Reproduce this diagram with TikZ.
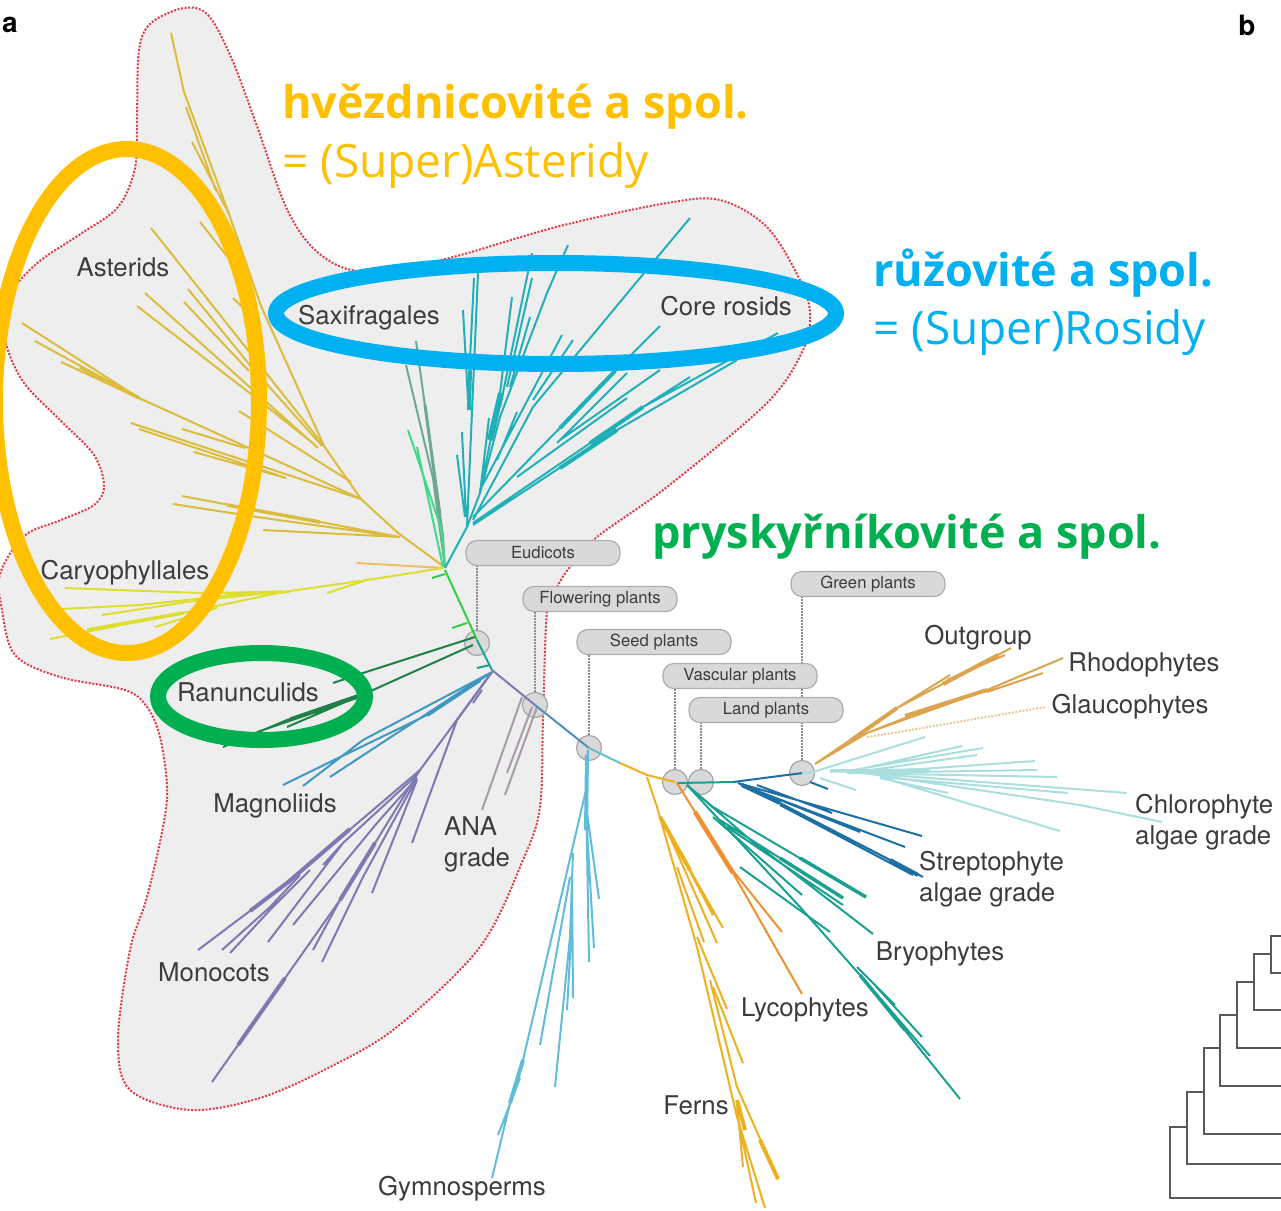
\documentclass[tikz,border=0pt]{standalone}
\usepackage{fontspec}
\setmainfont{TeX Gyre Heros}
\newfontfamily\czfont{Open Sans}
\usetikzlibrary{positioning}
\definecolor{blobred}{HTML}{E03A48}
\definecolor{blobfill}{HTML}{EEEEEE}
\definecolor{labelgray}{HTML}{3C3C3C}
\definecolor{cAster}{HTML}{DCBC3C}
\definecolor{cCaryo}{HTML}{DEDE30}
\definecolor{cRosid}{HTML}{22B0B8}
\definecolor{cSaxi}{HTML}{6FA890}
\definecolor{cRanun}{HTML}{1F8048}
\definecolor{cMagn}{HTML}{3F98C0}
\definecolor{cMono}{HTML}{7C7AB0}
\definecolor{cAna}{HTML}{A89CA8}
\definecolor{cGymn}{HTML}{60BCD8}
\definecolor{cFern}{HTML}{EDB020}
\definecolor{cLyco}{HTML}{F09030}
\definecolor{cBryo}{HTML}{1AA090}
\definecolor{cStrep}{HTML}{1C70A4}
\definecolor{cChlor}{HTML}{ABDEDE}
\definecolor{cOut}{HTML}{DCA44E}
\definecolor{ovalgold}{HTML}{FFC000}
\definecolor{ovalblue}{HTML}{00B0F0}
\definecolor{ovalgreen}{HTML}{00B050}
\tikzset{
  branch/.style={line width=2pt,line join=round},
  cladelabel/.style={text=labelgray,font=\fontsize{25.8}{31}\selectfont,inner sep=0pt,align=left},
  pill/.style={draw=black!32,fill=black!15,line width=1.2pt,rounded corners=11pt,minimum width=154pt,minimum height=25pt,inner sep=0pt,text=labelgray,font=\fontsize{16.7}{18}\selectfont},
  marker/.style={circle,draw=black!35,fill=black!15,line width=1.2pt,minimum size=25pt,inner sep=0pt},
  tie/.style={black!45,line width=1.5pt,dash pattern=on 1.5pt off 1.5pt},
  oval/.style={line width=16pt},
  cztitle/.style={inner sep=0pt,anchor=base west,font=\czfont\bfseries\fontsize{45}{46}\selectfont},
  czsub/.style={inner sep=0pt,anchor=base west,font=\czfont\fontsize{46}{46}\selectfont},
  panel/.style={inner sep=0pt,font=\bfseries\fontsize{28}{28}\selectfont},
  cladogram/.style={black!65,line width=1.6pt}
}
\begin{document}
\begin{tikzpicture}[x=1pt,y=-1pt]
\useasboundingbox (0,0) rectangle (1281,1210);
% grey area with red dots
\draw[blobred,fill=blobfill,line width=2pt,dash pattern=on 2pt off 1.6pt] plot[smooth cycle,tension=.55] coordinates {
 (184,8) (208,15) (231,57) (257,126) (286,207) (314,249) (351,270) (400,268) (457,256) (560,226) (667,203) (720,200)
 (767,227) (800,280) (810,313) (803,350) (767,403) (667,487) (597,537) (570,567) (557,587) (547,612) (543,720)
 (540,807) (523,860) (480,947) (397,1027) (330,1067) (260,1098) (190,1110) (130,1090) (118,1040) (130,950) (147,897) (163,827)
 (167,787) (160,737) (147,707) (125,690) (60,677) (15,655) (2,610) (0,574) (24,536) (61,520) (94,505) (104,486)
 (94,455) (61,421) (24,383) (6,344) (4,306) (16,285) (41,260) (82,233) (118,207) (135,168) (137,115) (139,50) (151,23)
};
% markers under the tree
\node[marker] (mEudicots) at (477,643) {};
\node[marker] (mFlowering) at (535,705) {};
\node[marker] (mSeed) at (589,748) {};
\node[marker] (mVascular) at (675,782) {};
\node[marker] (mLand) at (701,782) {};
\node[marker] (mGreen) at (802,773) {};
% asterids
\draw[branch,cAster] (443,566) -- (398,533) -- (361,499) -- (324,446) -- (261,306) -- (229,214) -- (184,92) -- (171,33);
\draw[branch,cAster] (192,142) -- (229,214) (186,107) -- (216,191) (190,188) -- (233,245) (200,222) -- (245,279);
\draw[branch,cAster] (151,228) -- (324,446) (145,293) -- (253,390) -- (318,448) (137,306) -- (251,394) -- (314,444);
\draw[branch,cAster] (188,289) -- (249,364) -- (322,446) (184,302) -- (249,371) (233,298) -- (261,325) (239,411) -- (351,482);
\draw[branch,cAster] (22,323) -- (139,398) -- (361,499) (35,341) -- (139,398) (61,362) -- (143,400);
\draw[branch,cAster] (131,423) -- (361,499) (139,429) -- (286,478) (182,429) -- (245,448) (194,452) -- (286,478);
\draw[branch,cAster] (182,496) -- (400,537) (173,504) -- (257,517) -- (400,537) (263,530) -- (400,537);
\draw[branch,cAster,line width=3.5pt] (227,505) -- (320,522) (80,367) -- (139,398);
\draw[branch,cAster!55!orange!70!white] (357,563) -- (443,568);
% caryophyllales
\draw[branch,cCaryo] (65,588) -- (200,593) -- (283,592) -- (367,580) -- (443,568) (60,609) -- (140,605) -- (233,595) -- (290,592);
\draw[branch,cCaryo] (102,615) -- (187,602) -- (267,593) (50,639) -- (183,613) -- (283,592) (155,627) -- (217,608) (327,593) -- (367,580);
\draw[branch,cCaryo,line width=3.5pt] (87,630) -- (183,613) (225,594) -- (283,592);
% saxifragales
\draw[branch,cSaxi] (416,341) -- (443,536) -- (445,568) (406,365) -- (433,478) -- (445,568);
\draw[branch,cSaxi,line width=3pt] (425,405) -- (440,515);
\draw[branch,cRosid!60!green!80!white] (408,430) -- (441,528) -- (445,568) (417,447) -- (443,567);
% rosids
\draw[branch,cRosid] (445,568) -- (467,527);
\draw[branch,cRosid] (467,527) -- (478,273) (474,278) -- (468,400) (463,310) -- (468,400) (462,432) -- (466,517) (457,455) -- (465,517);
\draw[branch,cRosid] (489,418) -- (480,493) (512,297) -- (500,393) -- (480,493) -- (467,527) (532,253) -- (500,407) (532,278) -- (507,387);
\draw[branch,cRosid] (568,245) -- (547,293) -- (500,417) -- (480,493) (530,317) -- (510,387) (562,335) -- (480,490) (573,340) -- (533,400) (517,412) -- (497,460);
\draw[branch,cRosid] (690,218) -- (630,290) -- (533,407) -- (473,520) (660,326) -- (633,353) -- (473,517) (627,373) -- (557,443) (660,370) -- (560,440) (627,398) -- (517,477);
\draw[branch,cRosid] (778,333) -- (643,407) -- (473,523) (737,360) -- (617,430) -- (473,525) (690,377) -- (643,407);
\draw[branch,cRosid,line width=4pt] (560,428) -- (615,371) (560,468) -- (617,430) (590,443) -- (643,407) (470,370) -- (469,410);
\draw[branch,cRosid,line width=6pt] (501,393) -- (490,440);
% stem
\draw[branch,green!55!cRanun!85!white] (445,570) -- (477,640) (432,578) -- (445,574) (452,628) -- (467,623);
\draw[branch,cBryo] (477,640) -- (492,670) (477,668) -- (490,665);
% ranunculids
\draw[branch,cRanun] (475,637) -- (363,673) -- (333,683) (473,645) -- (373,690) -- (287,720) -- (223,747) (257,732) -- (357,698) (287,727) -- (350,700);
\draw[branch,cRanun,line width=3pt] (290,719) -- (357,696);
% magnoliids
\draw[branch,cMagn] (283,785) -- (330,762) -- (427,715) -- (492,672) (303,786) -- (363,740) -- (492,672) (330,777) -- (397,733) -- (492,672);
\draw[branch,cMagn,line width=4pt] (427,715) -- (480,680);
% monocots
\draw[branch,cMono] (492,672) -- (420,770) -- (340,900) -- (212,1082);
\draw[branch,cMono] (198,950) -- (287,883) -- (420,770) (222,950) -- (270,907) -- (300,875) (230,953) -- (270,910) -- (310,870);
\draw[branch,cMono] (268,942) -- (343,843) -- (417,775) (293,925) -- (377,823) -- (417,778) (313,950) -- (340,900) (322,962) -- (363,877) -- (417,778) (372,893) -- (417,780) (323,865) -- (343,843);
\draw[branch,cMono] (412,843) -- (457,720) -- (492,672) (473,703) -- (482,690);
\draw[branch,cMono,line width=4pt] (238,1045) -- (285,978) (340,900) -- (375,843) (250,911) -- (287,883) -- (350,829);
% ANA grade
\draw[branch,cAna] (482,810) -- (522,697) (507,773) -- (532,707) (505,795) -- (537,707);
% backbone
\draw[branch,cMono] (492,670) -- (535,705);
\draw[branch,cMagn!70!cMono] (535,705) -- (589,748);
\draw[branch,cGymn!60!cBryo!80!white] (589,748) -- (620,763);
\draw[branch,cFern] (620,763) -- (647,775) -- (675,782);
\draw[branch,cBryo] (677,783) -- (733,782);
\draw[branch,cStrep] (733,782) -- (787,775) -- (803,773);
% gymnosperms
\draw[branch,cGymn] (588,750) -- (586,790) -- (523,1060) -- (510,1103) -- (492,1178) (498,1135) -- (520,1078) (540,1045) -- (570,877) (555,1087) -- (570,937) -- (573,853);
\draw[branch,cGymn] (567,1010) -- (572,920) (573,998) -- (572,880) (589,962) -- (586,790) (594,948) -- (587,830) (599,899) -- (587,813);
\draw[branch,cGymn,line width=4pt] (587,755) -- (586,830) (523,1060) -- (510,1103);
% ferns
\draw[branch,cFern] (647,777) -- (657,807) -- (697,947) -- (737,1117) -- (765,1208) (756,1203) -- (737,1115) (743,1167) -- (737,1103) (778,1179) -- (737,1087) -- (710,980);
\draw[branch,cFern] (743,1063) -- (713,987) (727,1009) -- (697,937) (723,928) -- (660,817) (717,943) -- (667,830) (704,942) -- (677,867) (713,915) -- (663,820);
\draw[branch,cFern,line width=4pt] (737,1100) -- (745,1130) (660,817) -- (690,870) (760,1140) -- (778,1179);
% lycophytes
\draw[branch,cLyco] (677,783) -- (733,873) -- (802,994) (782,932) -- (730,867);
\draw[branch,cLyco,line width=4.5pt] (695,812) -- (733,873);
% bryophytes
\draw[branch,cBryo] (687,785) -- (800,907) -- (867,983) -- (960,1099) (922,1037) -- (873,983) (930,1056) -- (867,983) (895,1005) -- (857,967);
\draw[branch,cBryo] (830,932) -- (740,867) (802,895) -- (713,817) (873,934) -- (747,837) -- (687,785) (866,897) -- (713,807) -- (687,785) (843,898) -- (720,820) (843,905) -- (727,827);
\draw[branch,cBryo,line width=3.5pt] (800,858) -- (866,897) (860,975) -- (905,1030) (780,858) -- (843,898);
% streptophyte algae
\draw[branch,cStrep] (922,836) -- (738,783) (905,847) -- (747,787) (923,877) -- (780,803) -- (738,783) (913,875) -- (780,805) (832,813) -- (757,785) (828,789) -- (810,782) (860,832) -- (755,790);
\draw[branch,cStrep,line width=4pt] (742,785) -- (780,803) (890,860) -- (918,875);
% chlorophyte algae
\draw[branch,cChlor] (925,737) -- (813,772) (962,746) -- (847,772) (983,748) -- (853,770) (977,755) -- (870,770) (1035,761) -- (863,773) (1037,770) -- (847,773) (1057,777) -- (847,773);
\draw[branch,cChlor] (1127,793) -- (863,773) (1068,793) -- (880,777) (1162,822) -- (1080,805) -- (863,773) (1060,831) -- (880,777) (948,793) -- (880,778) (856,790) -- (820,778) (813,772) -- (802,773);
\draw[branch,cChlor,line width=3.5pt] (830,771) -- (930,770);
% outgroup
\draw[branch,cOut] (815,764) -- (897,708) -- (1011,648) (1005,655) -- (947,680) (950,675) -- (897,708) (1063,658) -- (987,690) -- (867,733) -- (815,764) (1043,673) -- (987,692) (933,707) -- (867,733);
\draw[branch,cOut,line width=4pt] (850,741) -- (897,708) (943,684) -- (998,655) (905,716) -- (987,690);
\draw[branch,cOut!60!white,dash pattern=on 2pt off 1.5pt] (1045,707) -- (893,733) -- (867,737);
% ties from pills to markers
\node[pill] (Eudicots) at (543,553) {Eudicots};
\node[pill] (Flowering) at (600,599) {Flowering plants};
\node[pill] (Seed) at (654,642) {Seed plants};
\node[pill] (Green) at (868,584) {Green plants};
\draw[tie] (mEudicots.north) -- (mEudicots.north |- Eudicots.south);
\draw[tie] (mFlowering.north) -- (mFlowering.north |- Flowering.south);
\draw[tie] (mSeed.north) -- (mSeed.north |- Seed.south);
\draw[tie] (mGreen.north) -- (mGreen.north |- Green.south);
\node[pill] (Vascular) at (740,676) {Vascular plants};
\node[pill] (Land) at (766,710) {Land plants};
\draw[tie] (mVascular.north) -- (mVascular.north |- Vascular.south);
\draw[tie] (mLand.north) -- (mLand.north |- Land.south);
% clade labels
\node[cladelabel] (Asterids) at (123,267) {Asterids};
\node[cladelabel] (Caryo) at (125,572.5) {Caryophyllales};
\node[cladelabel] (Saxi) at (369,318) {Saxifragales};
\node[cladelabel] (Rosids) at (726,306) {Core rosids};
\node[cladelabel] (Ranun) at (248,692) {Ranunculids};
\node[cladelabel] (Magn) at (275,806) {Magnoliids};
\node[cladelabel] (Mono) at (214,972) {Monocots};
\node[cladelabel,anchor=west] (Ana) at (444,844.5) {ANA\\grade};
\node[cladelabel] (Outgroup) at (978,638) {Outgroup};
\node[cladelabel] (Rhodo) at (1144,665) {Rhodophytes};
\node[cladelabel] (Glauco) at (1130,707) {Glaucophytes};
\node[cladelabel,anchor=west] (Chloro) at (1135,822) {Chlorophyte\\algae grade};
\node[cladelabel,anchor=west] (Strepto) at (919,879.5) {Streptophyte\\algae grade};
\node[cladelabel] (Bryo) at (940,954) {Bryophytes};
\node[cladelabel] (Lyco) at (805,1010) {Lycophytes};
\node[cladelabel] (Ferns) at (696,1105) {Ferns};
\node[cladelabel] (Gymno) at (462,1189) {Gymnosperms};
\node[panel] (panelA) at (10,25) {a};
\node[panel] (panelB) at (1247,25) {b};
% right hand tree
\draw[cladogram] (1281,1198) -| (1170,1127) -- (1187,1127);
\draw[cladogram] (1281,1164) -| (1187,1092) -- (1204,1092);
\draw[cladogram] (1281,1134) -| (1204,1048) -- (1220,1048);
\draw[cladogram] (1281,1086) -| (1220,1015) -- (1237,1015);
\draw[cladogram] (1281,1048) -| (1237,982) -- (1254,982);
\draw[cladogram] (1281,1010) -| (1254,954) -- (1271,954);
\draw[cladogram] (1281,973) -| (1271,936) -- (1281,936);
\draw[cladogram] (1187,1127) -- (1187,1164) (1204,1092) -- (1204,1134) (1220,1048) -- (1220,1086) (1237,1015) -- (1237,1048) (1254,982) -- (1254,1010);
% ovals
\draw[oval,ovalgold] (127,401) ellipse (132pt and 252pt);
\draw[oval,ovalblue] (556,313.5) ellipse (280pt and 50.5pt);
\draw[oval,ovalgreen] (261.5,696.5) ellipse (103.5pt and 43.5pt);
% czech titles
\node[cztitle,text=ovalgold] (asterT) at (282,118) {hvězdnicovité a spol.};
\node[czsub,text=ovalgold] (asterS) at (282,177) {= (Super)Asteridy};
\node[cztitle,text=ovalblue] (rosidT) at (873,286) {růžovité a spol.};
\node[czsub,text=ovalblue] (rosidS) at (873,344) {= (Super)Rosidy};
\node[cztitle,text=ovalgreen] (ranunT) at (652,548) {pryskyřníkovité a spol.};
\end{tikzpicture}
\end{document}
